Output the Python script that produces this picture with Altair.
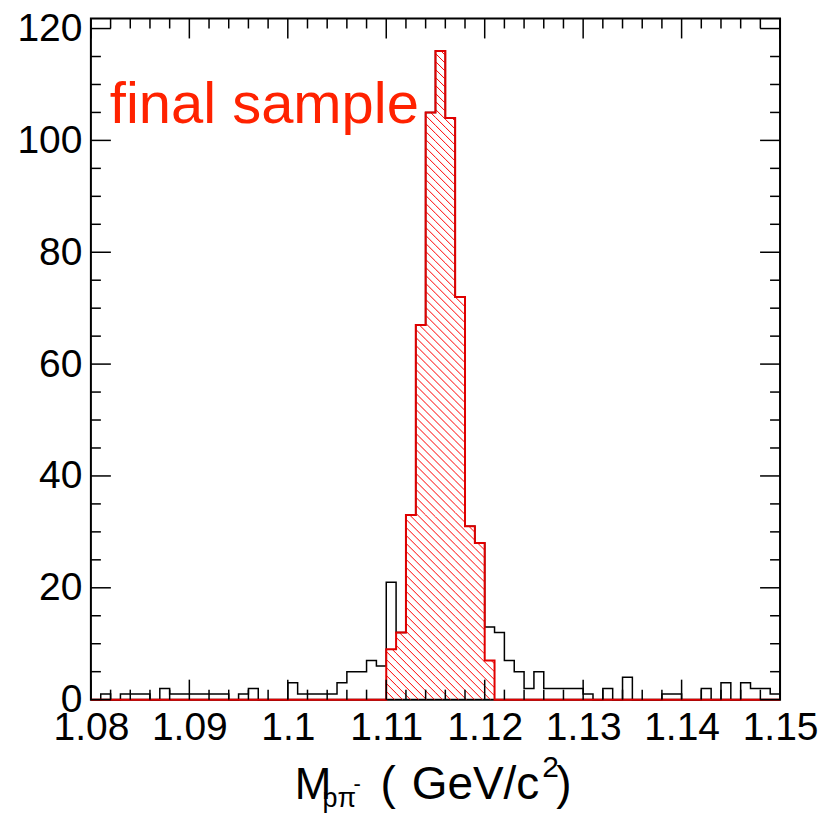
import altair as alt
import numpy as np
import pandas as pd

# ---------------- data ----------------
X_MIN, X_MAX, BIN_W = 1.08, 1.15, 0.001
Y_MAX = 121.8

BLACK_COUNTS = [0, 1, 0, 1, 1, 1, 0, 2, 1, 1,
                1, 1, 1, 1, 0, 1, 2, 0, 0, 0,
                3, 1, 1, 1, 1, 3, 5, 5, 7, 6,
                21, 12, 33, 67, 105, 116, 104, 72, 31, 28,
                13, 12, 7, 5, 2, 5, 2, 2, 2, 2,
                1, 0, 2, 0, 4, 0, 0, 0, 1, 1,
                0, 0, 2, 0, 3, 0, 3, 2, 2, 1]
RED_COUNTS = [0] * 30 + [9, 12, 33, 67, 105, 116, 104, 72, 31, 28, 7] + [0] * 29

X_MAJOR = [1.08, 1.09, 1.10, 1.11, 1.12, 1.13, 1.14, 1.15]
Y_MAJOR = [0, 20, 40, 60, 80, 100, 120]

X_TITLE_MAIN = "M"
X_TITLE_SUB = "pπ"
X_TITLE_SUP = "-"
X_TITLE_OPEN = "("
X_TITLE_UNIT = "GeV/c"
X_TITLE_SQ = "2"
X_TITLE_END = ")"
LABEL_TEXT = "final sample"

# ---------------- geometry ----------------
W, H = 690, 682
nb = len(BLACK_COUNTS)
edges = np.round(X_MIN + BIN_W * np.arange(nb + 1), 4)

def step_df(counts):
    return pd.DataFrame({"x": edges, "y": list(counts) + [counts[-1]]})

black_df = step_df(BLACK_COUNTS)
red_df = step_df(RED_COUNTS)

# hatch segments (45 deg in pixel space) inside red bins
def to_px_x(x):
    return (x - X_MIN) / (X_MAX - X_MIN) * W

def to_px_y(y):
    return y / Y_MAX * H

segs = []
spacing = 8.0
for k, r in enumerate(RED_COUNTS):
    if r <= 0:
        continue
    u0, u1 = to_px_x(edges[k]), to_px_x(edges[k + 1])
    h = to_px_y(r)
    c = np.floor(u0 / spacing) * spacing
    while c <= u1 + h + spacing:
        ua = max(u0, c - h)
        ub = min(u1, c)
        if ub > ua:
            segs.append({
                "x1": X_MIN + ua / W * (X_MAX - X_MIN),
                "y1": (c - ua) / H * Y_MAX,
                "x2": X_MIN + ub / W * (X_MAX - X_MIN),
                "y2": (c - ub) / H * Y_MAX,
            })
        c += spacing
hatch_df = pd.DataFrame(segs)

x_minor = [round(X_MIN + 0.002 * i, 3) for i in range(36)]
x_minor = [v for v in x_minor if all(abs(v - m) > 1e-6 for m in X_MAJOR)]
y_minor = [v for v in range(5, 121, 5) if v not in Y_MAJOR]

xs = alt.Scale(domain=[X_MIN, X_MAX], nice=False, zero=False)
ys = alt.Scale(domain=[0, Y_MAX], nice=False, zero=True)

FONT = "Liberation Sans"
x_axis = alt.Axis(values=X_MAJOR, format="~g", title=None, ticks=False, tickSize=0,
                  domain=False, grid=False, labelFont=FONT, labelFontSize=39,
                  labelColor="black", labelPadding=9, labelFlush=False, labelOverlap=False)
y_axis = alt.Axis(values=Y_MAJOR, format="d", title=None, ticks=False, tickSize=0,
                  domain=False, grid=False, labelFont=FONT, labelFontSize=39,
                  labelColor="black", labelPadding=9, labelOverlap=False)

def X(field):
    return alt.X(field, type="quantitative", scale=xs, axis=x_axis)

def Y(field):
    return alt.Y(field, type="quantitative", scale=ys, axis=y_axis)

black_line = alt.Chart(black_df).mark_line(
    interpolate="step-after", color="black", strokeWidth=1.5
).encode(x=X("x"), y=Y("y"))

hatch = alt.Chart(hatch_df).mark_rule(color="#ff0000", strokeWidth=1).encode(
    x=X("x1"), y=Y("y1"), x2="x2", y2="y2"
)

red_line = alt.Chart(red_df).mark_line(
    interpolate="step-after", color="#e00000", strokeWidth=2
).encode(x=X("x"), y=Y("y"))

tick_style = dict(color="black", strokeWidth=1.5)
xmaj = pd.DataFrame({"v": X_MAJOR})
xmin = pd.DataFrame({"v": x_minor})
ymaj = pd.DataFrame({"v": Y_MAJOR})
ymin = pd.DataFrame({"v": y_minor})

ticks = [
    alt.Chart(xmaj).mark_rule(**tick_style).encode(x=X("v"), y=alt.value(H), y2=alt.value(H - 20)),
    alt.Chart(xmaj).mark_rule(**tick_style).encode(x=X("v"), y=alt.value(0), y2=alt.value(20)),
    alt.Chart(xmin).mark_rule(**tick_style).encode(x=X("v"), y=alt.value(H), y2=alt.value(H - 10)),
    alt.Chart(xmin).mark_rule(**tick_style).encode(x=X("v"), y=alt.value(0), y2=alt.value(10)),
    alt.Chart(ymaj).mark_rule(**tick_style).encode(y=Y("v"), x=alt.value(0), x2=alt.value(20)),
    alt.Chart(ymaj).mark_rule(**tick_style).encode(y=Y("v"), x=alt.value(W), x2=alt.value(W - 20)),
    alt.Chart(ymin).mark_rule(**tick_style).encode(y=Y("v"), x=alt.value(0), x2=alt.value(10)),
    alt.Chart(ymin).mark_rule(**tick_style).encode(y=Y("v"), x=alt.value(W), x2=alt.value(W - 10)),
]

one = pd.DataFrame({"d": [0]})

def txt(text, x, y, size, align="left", color="black"):
    return alt.Chart(one).mark_text(
        text=text, font=FONT, fontSize=size, align=align, baseline="alphabetic", color=color
    ).encode(x=alt.value(x), y=alt.value(y))

texts = [
    txt(LABEL_TEXT, 19, 105, 58, color="#ff2200"),
    txt(X_TITLE_MAIN, 204, 781, 44),
    txt(X_TITLE_SUB, 232, 789, 27),
    txt(X_TITLE_SUP, 263, 773, 22),
    txt(X_TITLE_OPEN, 290, 781, 46),
    txt(X_TITLE_UNIT, 449, 781, 46, align="right"),
    txt(X_TITLE_SQ, 452, 759, 30),
    txt(X_TITLE_END, 466, 781, 46),
]

chart = alt.layer(black_line, hatch, red_line, *ticks, *texts).properties(
    width=W, height=H,
    padding={"left": 83, "top": 10, "right": 40, "bottom": 114},
    autosize=alt.AutoSizeParams(type="none"),
    background="white",
).configure_view(stroke="black", strokeWidth=2)

chart.save("out.html", embed_options={"renderer": "svg", "actions": False})
